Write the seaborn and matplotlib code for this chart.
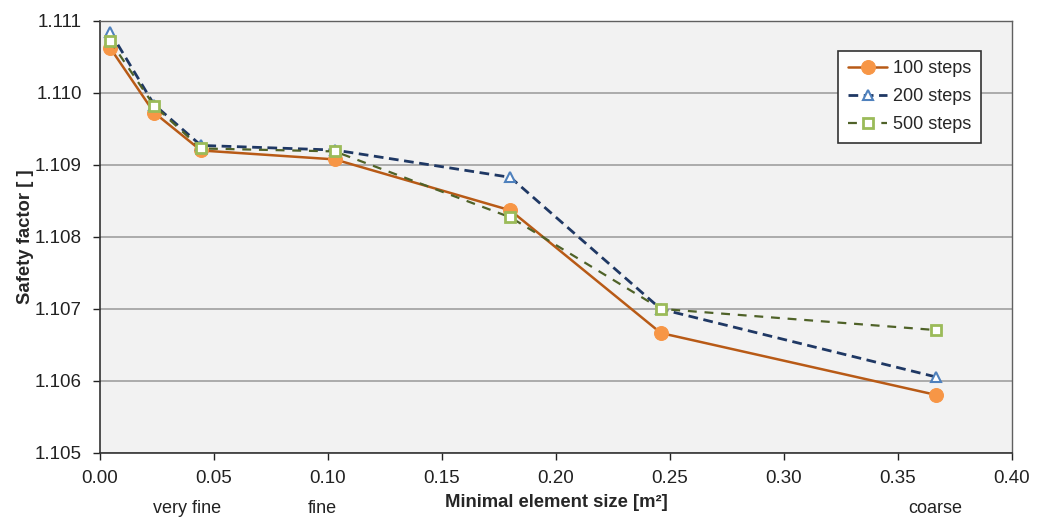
import matplotlib
matplotlib.use("Agg")
import matplotlib.pyplot as plt
import seaborn as sns
import pandas as pd

element_size = [0.0044, 0.0237, 0.0443, 0.103, 0.180, 0.246, 0.3667]
sf_100 = [1.110626, 1.109726, 1.109199, 1.109075, 1.108368, 1.106665, 1.105806]
sf_200 = [1.110848, 1.109837, 1.109269, 1.109205, 1.108826, 1.106997, 1.106055]
sf_500 = [1.110723, 1.109823, 1.109227, 1.109186, 1.108271, 1.107000, 1.106706]
series_names = ["100 steps", "200 steps", "500 steps"]
x_ticks = [0.00, 0.05, 0.10, 0.15, 0.20, 0.25, 0.30, 0.35, 0.40]
y_ticks = [1.105, 1.106, 1.107, 1.108, 1.109, 1.110, 1.111]
mesh_labels = ["very fine", "fine", "coarse"]
mesh_label_x = [0.0382, 0.0975, 0.3665]

sns.set_theme(style="white")
plt.rcParams['font.family'] = ['Liberation Sans', 'DejaVu Sans']

df = pd.concat([
    pd.DataFrame({"x": element_size, "y": vals, "series": name})
    for name, vals in zip(series_names, [sf_100, sf_200, sf_500])
])

fig = plt.figure(figsize=(10.38, 5.18), dpi=100)
ax = fig.add_axes([0.0963, 0.1255, 0.8787, 0.8345])
ax.set_facecolor("#F2F2F2")

styles = {
    "100 steps": dict(color="#B85A16", linestyle="-", linewidth=1.8, marker="o",
                      markersize=10, markerfacecolor="#F79646", markeredgecolor="#F79646"),
    "200 steps": dict(color="#1F3864", linestyle=(0, (3.5, 2)), linewidth=2.0, marker="^",
                      markersize=7, markerfacecolor="white", markeredgecolor="#4F81BD",
                      markeredgewidth=1.5),
    "500 steps": dict(color="#4F6228", linestyle=(0, (4, 3.5)), linewidth=1.6, marker="s",
                      markersize=7, markerfacecolor="white", markeredgecolor="#9BBB59",
                      markeredgewidth=2),
}
for name in series_names:
    sub = df[df["series"] == name]
    sns.lineplot(data=sub, x="x", y="y", ax=ax, label=name, **styles[name])

ax.set_xlim(0, 0.40)
ax.set_ylim(1.105, 1.111)
ax.set_xticks(x_ticks)
ax.set_xticklabels([f"{v:.2f}" for v in x_ticks])
ax.set_yticks(y_ticks)
ax.set_yticklabels([f"{v:.3f}" for v in y_ticks])
ax.yaxis.grid(True, color="#A0A0A0", linewidth=1.2)
ax.set_axisbelow(True)
ax.tick_params(axis="both", labelsize=13.5, colors="#222222", length=5, width=1,
               direction="out", left=True, bottom=True)
ax.tick_params(axis="x", pad=7)
ax.tick_params(axis="y", pad=8)
for side in ["left", "bottom"]:
    ax.spines[side].set_color("#333333")
    ax.spines[side].set_linewidth(1.2)
for side in ["top", "right"]:
    ax.spines[side].set_color("#606060")
    ax.spines[side].set_linewidth(1.0)

ax.set_xlabel("Minimal element size [m²]", fontsize=13.3, fontweight="bold", labelpad=5)
ax.set_ylabel("Safety factor [ ]", fontsize=13.3, fontweight="bold", labelpad=0.5)

for lbl, xv in zip(mesh_labels, mesh_label_x):
    ax.text(xv, -0.128, lbl, transform=ax.get_xaxis_transform(), ha="center",
            va="center", fontsize=13, color="#222222")

leg = ax.legend(loc="upper right", bbox_to_anchor=(0.966, 0.931), borderaxespad=0,
                fontsize=13, frameon=True, fancybox=False, framealpha=1,
                edgecolor="#333333", handlelength=2.2, borderpad=0.55,
                labelspacing=0.6, handletextpad=0.3)
leg.get_frame().set_linewidth(1.2)

fig.savefig("out.png", dpi=100, facecolor="white")
